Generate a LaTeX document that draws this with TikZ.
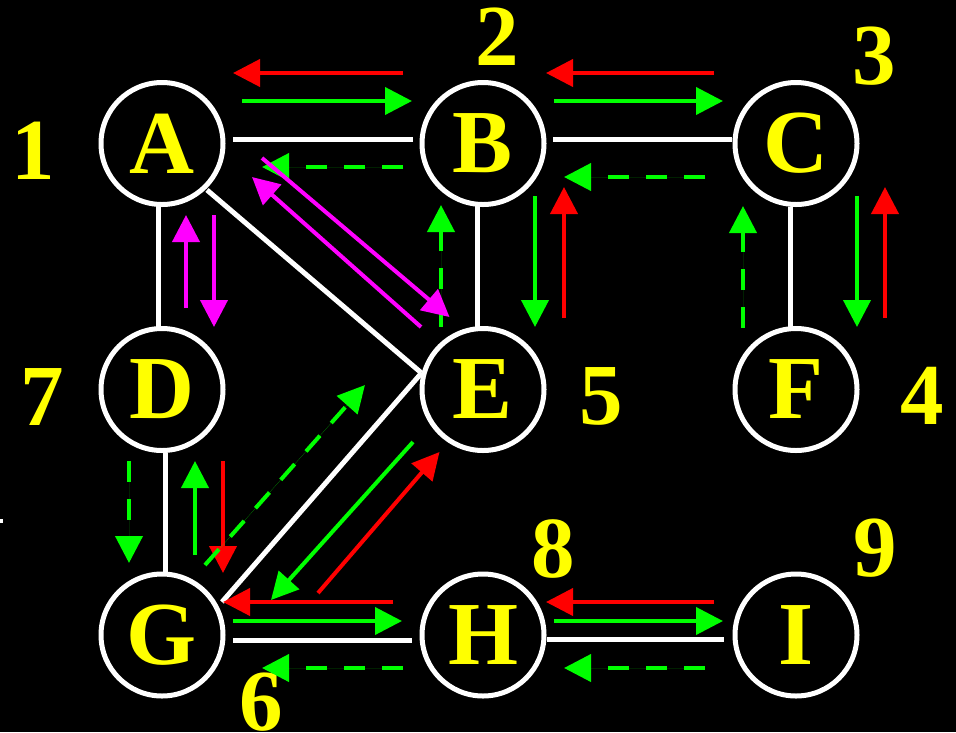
\documentclass[tikz,border=0pt]{standalone}
\usepackage{fontspec}
\setmainfont{Liberation Serif}
\usetikzlibrary{arrows.meta,calc}
\definecolor{pred}{RGB}{255,0,0}
\definecolor{pgreen}{RGB}{0,255,0}
\definecolor{pmag}{RGB}{255,0,255}
\definecolor{pyel}{RGB}{255,255,0}
\begin{document}
\begin{tikzpicture}[x=1pt,y=-1pt,
  vert/.style={circle,draw=white,line width=5pt,minimum size=122pt,inner sep=0pt,text=pyel,font=\fontsize{90}{90}\selectfont\bfseries},
  num/.style={text=pyel,inner sep=0pt,font=\fontsize{87}{87}\selectfont\bfseries},
  link/.style={draw=white,line width=5pt},
  arr/.style={line width=4pt,-{Triangle[length=27pt,width=27pt]}},
  dsh/.style={arr,dash pattern=on 21pt off 17pt},
  ra/.style={arr,draw=pred,fill=pred},
  ga/.style={arr,draw=pgreen,fill=pgreen},
  gd/.style={dsh,draw=pgreen,fill=pgreen},
  ma/.style={arr,draw=pmag,fill=pmag}
]
\fill[black] (0,0) rectangle (956,732);
\useasboundingbox (0,0) rectangle (956,732);
\fill[white] (0,519) rectangle (3,523);

% vertices
\node[vert] (A) at (162,143.5) {A};
\node[vert] (B) at (483,143.5) {B};
\node[vert] (C) at (796,143.5) {C};
\node[vert] (D) at (162,389.5) {D};
\node[vert] (E) at (483,389.5) {E};
\node[vert] (F) at (796,389.5) {F};
\node[vert] (G) at (162,635) {G};
\node[vert] (H) at (483,635) {H};
\node[vert] (I) at (796,635) {I};

% numbers
\node[num] (n1) at (33.5,150.5) {1};
\node[num] (n2) at (497,37) {2};
\node[num] (n3) at (874.5,56) {3};
\node[num] (n4) at (922,396) {4};
\node[num] (n5) at (601,396) {5};
\node[num] (n6) at (261,702) {6};
\node[num] (n7) at (42,397) {7};
\node[num] (n8) at (553,549) {8};
\node[num] (n9) at (875,548) {9};

% edges
\draw[link] ($(A)+(71,-4.5)$) -- ($(B)+(-70,-4.5)$);
\draw[link] ($(B)+(70,-4.5)$) -- ($(C)+(-64,-4.5)$);
\draw[link] ($(G)+(71,5)$) -- ($(H)+(-71,5)$);
\draw[link] ($(H)+(64,4)$) -- ($(I)+(-72,4)$);
\draw[link] ($(A)+(-4,62.5)$) -- ($(D)+(-4,-62.5)$);
\draw[link] ($(B)+(-6,62.5)$) -- ($(E)+(-6,-62.5)$);
\draw[link] ($(C)+(-6,63.5)$) -- ($(F)+(-6,-61.5)$);
\draw[link] ($(D)+(3,63.5)$) -- ($(G)+(3,-63)$);
\draw[link] ($(A)+(45,46.5)$) -- ($(E)+(-61.5,-16.5)$);
\draw[link] ($(E)+(-61.5,-16.5)$) -- ($(G)+(60,-33)$);

% A-B
\draw[ra] ($(B)+(-80,-70.5)$) -- ($(A)+(71,-70.5)$);
\draw[ga] ($(A)+(80,-42.5)$) -- ($(B)+(-71,-42.5)$);
\draw[gd] ($(B)+(-80,23.5)$) -- ($(A)+(100,23.5)$);
% B-C
\draw[ra] ($(C)+(-82,-70.5)$) -- ($(B)+(63,-70.5)$);
\draw[ga] ($(B)+(71,-42.5)$) -- ($(C)+(-73,-42.5)$);
\draw[gd] ($(C)+(-91,33.5)$) -- ($(B)+(81,33.5)$);
% G-H
\draw[ra] ($(H)+(-90,-33)$) -- ($(G)+(61,-33)$);
\draw[ga] ($(G)+(71,-14)$) -- ($(H)+(-81,-14)$);
\draw[gd] ($(H)+(-80,33)$) -- ($(G)+(100,33)$);
% H-I
\draw[ra] ($(I)+(-82,-33)$) -- ($(H)+(63,-33)$);
\draw[ga] ($(H)+(71,-14)$) -- ($(I)+(-73,-14)$);
\draw[gd] ($(I)+(-91,33)$) -- ($(H)+(81,33)$);
% B-E
\draw[ga] ($(B)+(52,52.5)$) -- ($(E)+(52,-62.5)$);
\draw[ra] ($(E)+(81,-71.5)$) -- ($(B)+(81,43.5)$);
\draw[gd] ($(E)+(-42,-62.5)$) -- ($(B)+(-42,61.5)$);
% C-F
\draw[gd] ($(F)+(-53,-61.5)$) -- ($(C)+(-53,62.5)$);
\draw[ga] ($(C)+(61,52.5)$) -- ($(F)+(61,-62.5)$);
\draw[ra] ($(F)+(89,-71.5)$) -- ($(C)+(89,43.5)$);
% A-D
\draw[ma] ($(D)+(24,-81.5)$) -- ($(A)+(24,71.5)$);
\draw[ma] ($(A)+(52,71.5)$) -- ($(D)+(52,-62.5)$);
% D-G
\draw[gd] ($(D)+(-33,71.5)$) -- ($(G)+(-33,-72)$);
\draw[ga] ($(G)+(33,-80)$) -- ($(D)+(33,71.5)$);
\draw[ra] ($(D)+(61,71.5)$) -- ($(G)+(61,-62)$);
% A-E
\draw[ma] ($(A)+(100,14.5)$) -- ($(E)+(-33.5,-72.5)$);
\draw[ma] ($(E)+(-62,-62.5)$) -- ($(A)+(90,33.5)$);
% G-E
\draw[gd] ($(G)+(43,-70)$) -- ($(E)+(-118,-4.5)$);
\draw[ga] ($(E)+(-70,52.5)$) -- ($(G)+(109,-35)$);
\draw[ra] ($(G)+(156,-42)$) -- ($(E)+(-43.5,62.5)$);
\end{tikzpicture}
\end{document}
